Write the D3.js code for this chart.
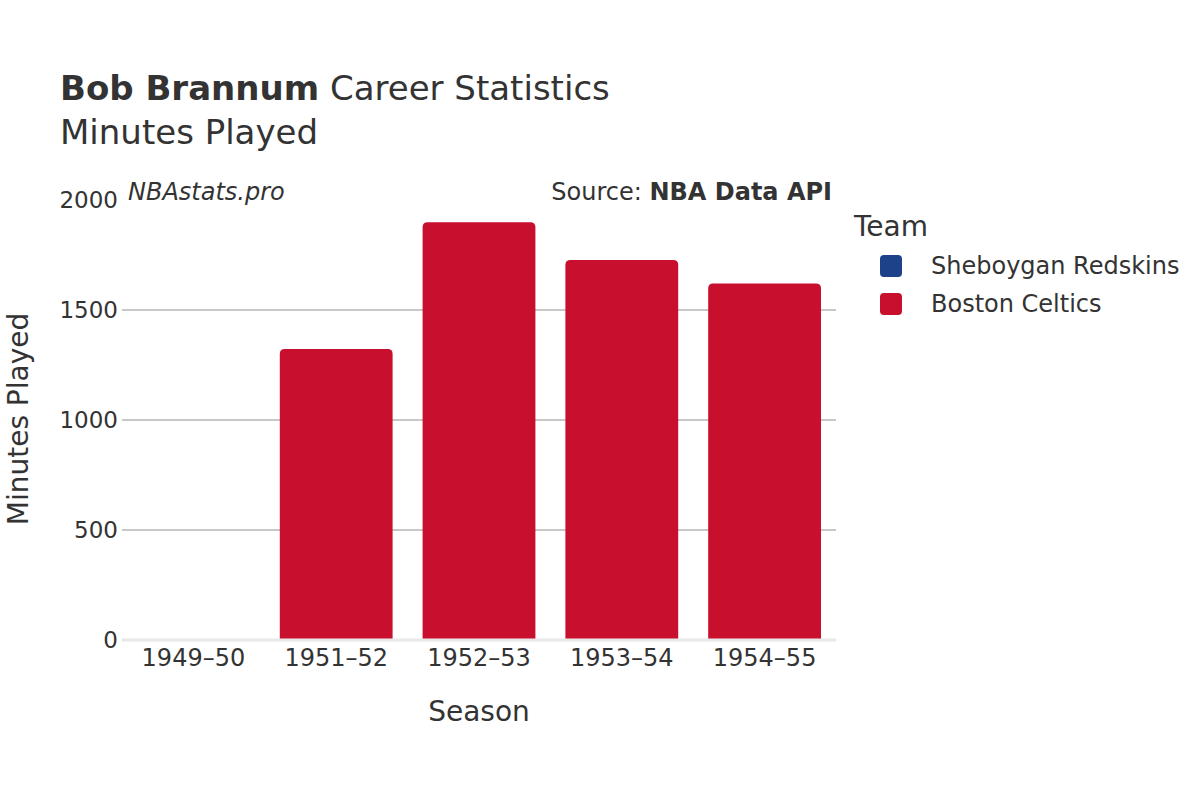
<!DOCTYPE html>
<html>
<head>
<meta charset="utf-8">
<script src="https://cdn.jsdelivr.net/npm/d3@7"></script>
<style>
  body { margin: 0; background: #fff; }
  text { font-family: "DejaVu Sans", sans-serif; fill: #333; }
</style>
</head>
<body>
<div id="chart"></div>
<script>
// chart data
let seasons = ["1949–50", "1951–52", "1952–53", "1953–54", "1954–55"];
let teams = ["Sheboygan Redskins", "Boston Celtics"];
let teamColors = ["#1D428A", "#C8102E"];
let seasonTeam = ["Sheboygan Redskins", "Boston Celtics", "Boston Celtics", "Boston Celtics", "Boston Celtics"];
let minutes = [0, 1323, 1899, 1727, 1621];
let yTicks = [0, 500, 1000, 1500, 2000];

let width = 1200,
	height = 800;
let margin = {top:200, bottom:160, left:122, right:364};

let svg = d3.select('#chart').append('svg')
	.attr('width', width)
	.attr('height', height);

let xScale = d3.scaleBand()
	.domain(seasons)
	.range([margin.left, width - margin.right])
	.paddingInner(0.21)
	.paddingOuter(0.105);

let yScale = d3.scaleLinear()
	.domain([0, 2000])
	.range([height - margin.bottom, margin.top]);

let colorScale = d3.scaleOrdinal()
	.domain(teams)
	.range(teamColors);

// gridlines
svg.append('g')
	.selectAll('line')
	.data(yTicks.filter(d => d > 0 && d < 2000))
	.enter()
	.append('line')
	.attr('x1', margin.left)
	.attr('x2', width - margin.right)
	.attr('y1', d => yScale(d))
	.attr('y2', d => yScale(d))
	.attr('stroke', '#b4b4b4')
	.attr('stroke-width', 1.6);

// bars, top corners rounded
let r = 5;
function barPath(d, i){
	let x0 = xScale(seasons[i]), w = xScale.bandwidth();
	let y0 = yScale(d), y1 = yScale(0);
	let rr = Math.min(r, (y1 - y0) / 2);
	if (y1 - y0 <= 0) return "";
	return "M" + x0 + "," + y1 +
		"V" + (y0 + rr) +
		"Q" + x0 + "," + y0 + " " + (x0 + rr) + "," + y0 +
		"H" + (x0 + w - rr) +
		"Q" + (x0 + w) + "," + y0 + " " + (x0 + w) + "," + (y0 + rr) +
		"V" + y1 + "Z";
}

svg.append('g')
	.selectAll('path')
	.data(minutes)
	.enter()
	.append('path')
	.attr('d', (d, i) => barPath(d, i))
	.attr('fill', (d, i) => colorScale(seasonTeam[i]));

// zero line
svg.append('line')
	.attr('x1', margin.left)
	.attr('x2', width - margin.right)
	.attr('y1', yScale(0))
	.attr('y2', yScale(0))
	.attr('stroke', '#e8e8e8')
	.attr('stroke-width', 3);

// axes
let yaxis = d3.axisLeft(yScale)
	.tickValues(yTicks)
	.tickSize(0)
	.tickPadding(4)
	.tickFormat(d3.format("d"));

svg.append('g')
	.attr('class', 'y-axis axis')
	.attr('transform', 'translate(' + margin.left + ',0)')
	.call(yaxis)
	.call(g => g.select('.domain').remove())
	.selectAll('text')
	.attr('font-size', 23)
	.attr('font-family', '"DejaVu Sans", sans-serif')
	.attr('fill', '#333');

let xaxis = d3.axisBottom(xScale)
	.tickSize(0)
	.tickPadding(9);

svg.append('g')
	.attr('class', 'x-axis axis')
	.attr('transform', 'translate(0,' + yScale(0) + ')')
	.call(xaxis)
	.call(g => g.select('.domain').remove())
	.selectAll('text')
	.attr('font-size', 24)
	.attr('font-family', '"DejaVu Sans", sans-serif')
	.attr('fill', '#333');

// axis titles
svg.append('text')
	.attr('x', (margin.left + width - margin.right) / 2)
	.attr('y', 721)
	.attr('text-anchor', 'middle')
	.attr('font-size', 28)
	.text('Season');

svg.append('text')
	.attr('transform', 'rotate(-90)')
	.attr('x', -419)
	.attr('y', 28)
	.attr('text-anchor', 'middle')
	.attr('font-size', 28)
	.text('Minutes Played');

// titles
let title = svg.append('text')
	.attr('x', 60)
	.attr('y', 100)
	.attr('font-size', 34);
title.append('tspan').attr('font-weight', 'bold').text('Bob Brannum');
title.append('tspan').text(' Career Statistics');

svg.append('text')
	.attr('x', 60)
	.attr('y', 144)
	.attr('font-size', 34)
	.text('Minutes Played');

svg.append('text')
	.attr('x', 128)
	.attr('y', 200)
	.attr('font-size', 24)
	.attr('font-style', 'italic')
	.text('NBAstats.pro');

let source = svg.append('text')
	.attr('x', 832)
	.attr('y', 200)
	.attr('text-anchor', 'end')
	.attr('font-size', 24);
source.append('tspan').text('Source: ');
source.append('tspan').attr('font-weight', 'bold').text('NBA Data API');

// legend
svg.append('text')
	.attr('x', 854)
	.attr('y', 236)
	.attr('font-size', 28)
	.text('Team');

let legend = svg.append('g')
	.selectAll('g')
	.data(teams)
	.enter()
	.append('g')
	.attr('transform', (d, i) => 'translate(880,' + (266 + i * 38) + ')');

legend.append('rect')
	.attr('x', 0)
	.attr('y', -11)
	.attr('width', 22)
	.attr('height', 22)
	.attr('rx', 4)
	.attr('fill', d => colorScale(d));

legend.append('text')
	.attr('x', 51)
	.attr('y', 8)
	.attr('font-size', 24)
	.text(d => d);
</script>
</body>
</html>
